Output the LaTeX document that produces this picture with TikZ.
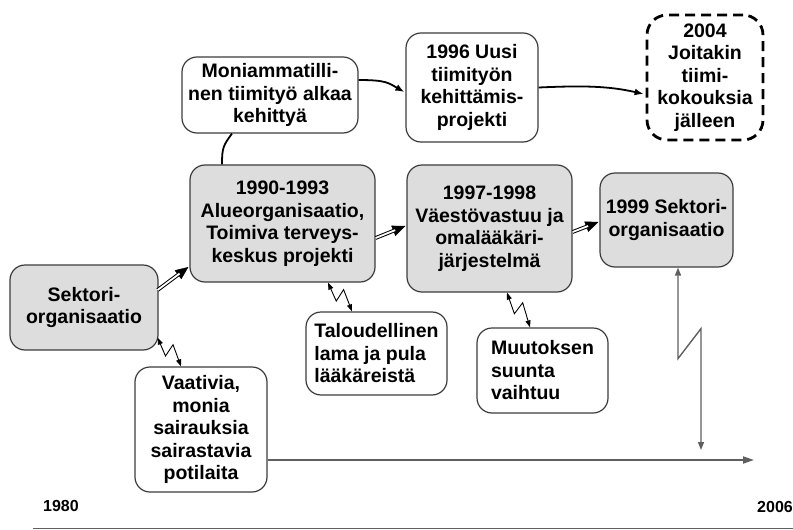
\documentclass[tikz,border=0pt]{standalone}
\usepackage{fontspec}
\setmainfont{Liberation Sans}
\usetikzlibrary{arrows.meta,calc}
\definecolor{boxgray}{RGB}{221,221,221}
\definecolor{edgegray}{RGB}{60,60,60}
\definecolor{linegray}{RGB}{95,95,95}
\tikzset{
  box/.style={draw=edgegray, line width=1.2pt, rounded corners=15pt, align=center,
    inner sep=2pt, font=\fontsize{19.5}{22.5}\selectfont\bfseries},
  graybox/.style={box, fill=boxgray},
  dashbox/.style={box, draw=black, line width=2.8pt, dash pattern=on 10pt off 6pt,
    rounded corners=20pt},
  growth/.style={line width=3.8pt,
    -{Triangle[length=13pt,width=11pt,line width=0.4pt]},
    postaction={draw=white, line width=1.8pt, shorten >=11pt, -}},
  curvearrow/.style={line width=1.8pt, -{Latex[length=9pt,width=7pt]}},
  bolt/.style={line width=0.9pt,
    {Triangle[length=7pt,width=5pt]}-{Triangle[length=7pt,width=5pt]}},
  bigbolt/.style={draw=linegray, line width=1.4pt,
    {Triangle[length=8pt,width=6pt]}-{Triangle[length=8pt,width=6pt]}},
  timeline/.style={draw=linegray, line width=1.8pt, -{Triangle[length=11pt,width=7pt]}},
  yearlabel/.style={font=\fontsize{16}{19}\selectfont\bfseries, inner sep=0pt}
}
\newcommand{\boltarrow}[2]{%
  \draw[bolt] (#1) -- ($(#1)!0.52!(#2)!5.5pt!-90:(#2)$)
    -- ($(#1)!0.41!(#2)!7.5pt!90:(#2)$) -- (#2);}
\begin{document}
\begin{tikzpicture}[x=1pt,y=-1pt]
  \useasboundingbox (0,0) rectangle (793,530);

  % Marking the main stages
  \node[graybox, minimum width=148pt, minimum height=85pt] (sektori) at (84,307.5)
    {Sektori-\\organisaatio};
  \node[graybox, minimum width=185pt, minimum height=117pt] (alue) at (282.5,223.5)
    {1990-1993\\Alueorganisaatio,\\Toimiva terveys-\\keskus projekti};
  \node[graybox, minimum width=165pt, minimum height=127pt] (vaesto) at (489.5,228.5)
    {1997-1998\\Väestövastuu ja\\omalääkäri-\\järjestelmä};
  \node[graybox, minimum width=133pt, minimum height=94pt] (sektori99) at (666.5,220)
    {1999 Sektori-\\organisaatio};

  % Marking the team work boxes
  \node[box, minimum width=176pt, minimum height=76pt] (moni) at (270,95)
    {Moniammatilli-\\nen tiimityö alkaa\\kehittyä};
  \node[box, minimum width=132pt, minimum height=109pt] (uusi) at (472,87.5)
    {1996 Uusi\\tiimityön\\kehittämis-\\projekti};
  \node[dashbox, minimum width=116pt, minimum height=125pt] (jalleen) at (705,77.5)
    {2004\\Joitakin\\tiimi-\\kokouksia\\jälleen};

  % Marking the outside factors
  \node[box, minimum width=132pt, minimum height=125pt] (vaativia) at (201,429.5)
    {Vaativia,\\monia\\sairauksia\\sairastavia\\potilaita};
  \node[box, align=left, minimum width=141pt, minimum height=83pt] (lama) at (376.5,353.5)
    {Taloudellinen\\lama ja pula\\lääkäreistä};
  \node[box, align=left, minimum width=131pt, minimum height=85pt] (muutos) at (542.5,370.5)
    {Muutoksen\\suunta\\vaihtuu};

  % Marking years
  \node[yearlabel] (y1980) at (61,506) {1980};
  \node[yearlabel, anchor=east] (y2006) at (793,507) {2006};
  \coordinate (tlend) at (754,460);
  \coordinate (boltend) at (701,450);

  % Drawing growth arrows
  \draw[growth] ([xshift=-1pt,yshift=17.5pt]sektori.east) -- ([xshift=-1pt,yshift=-43.5pt]alue.west);
  \draw[growth] ([yshift=-14.5pt]alue.east) -- ([xshift=-1pt,yshift=2.5pt]vaesto.west);
  \draw[growth] ([yshift=-3.5pt]vaesto.east) -- ([xshift=-1pt,yshift=-2pt]sektori99.west);

  % Drawing team work line
  \draw[line width=1.8pt] ([xshift=-38pt]moni.south)
    .. controls +(-9,12) and +(0,-16) .. ([xshift=-60.5pt]alue.north);
  \draw[curvearrow] ([yshift=15pt]moni.east)
    .. controls +(28,0) and +(-16,-9) .. ([xshift=-1pt,yshift=-4.5pt]uusi.west);
  \draw[curvearrow] (uusi.east)
    .. controls +(45,-2) and +(-35,-8) .. ([xshift=-2pt,yshift=-16.5pt]jalleen.west);

  % Drawing bolts
  \boltarrow{[shift={(-1pt,13pt)}]sektori.south east}{[xshift=-20pt]vaativia.north}
  \boltarrow{[xshift=45.5pt]alue.south}{[xshift=-24.5pt]lama.north}
  \boltarrow{[xshift=17.5pt]vaesto.south}{[xshift=-12.5pt]muutos.north}
  \draw[bigbolt] ([xshift=11.5pt]sektori99.south) -- ++(0,91) -- ++(23,-30) -- (boltend);

  % Drawing time axis
  \draw[timeline] (vaativia.east |- tlend) -- (tlend);
  \draw[draw=linegray, line width=1.5pt] (33,528.5) -- (793,528.5);
\end{tikzpicture}
\end{document}
